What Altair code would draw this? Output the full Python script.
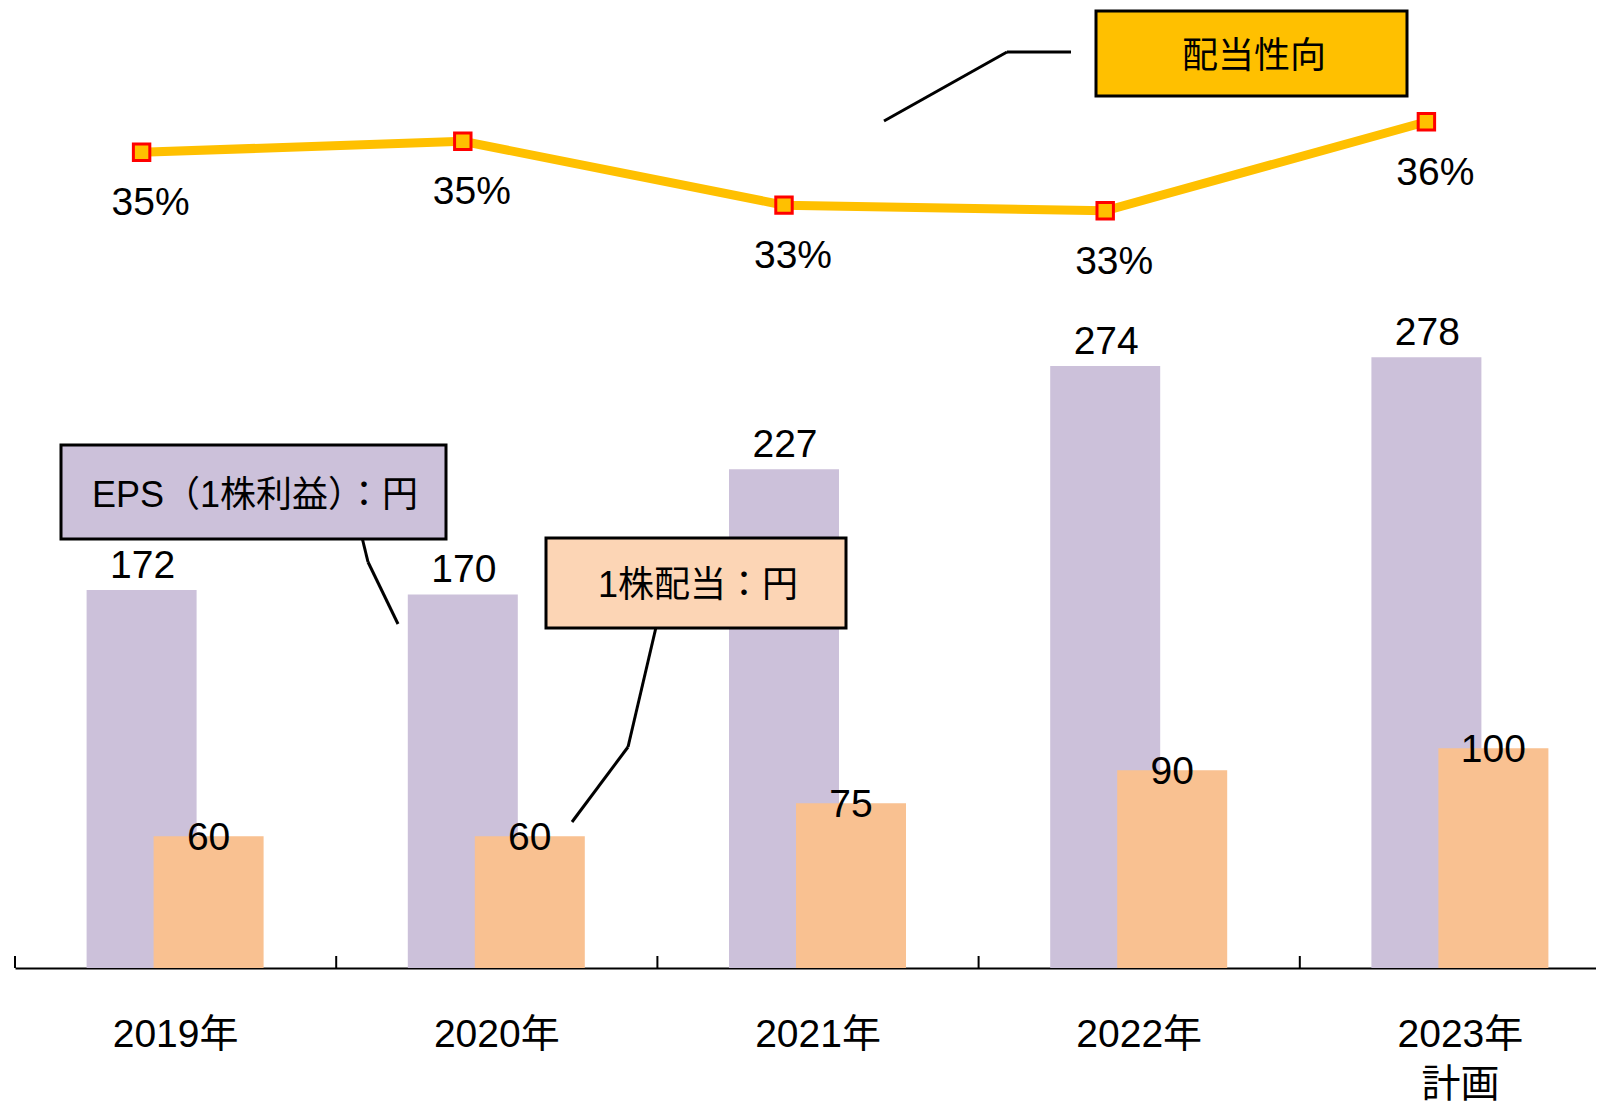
import altair as alt
import pandas as pd

# ---- data ----
years = ["2019年", "2020年", "2021年", "2022年", "2023年\n計画"]
eps = [172, 170, 227, 274, 278]          # EPS (1株利益) 円
dps = [60, 60, 75, 90, 100]              # 1株配当 円
payout = [34.9, 35.3, 33.0, 32.8, 36.0]  # 配当性向 %

df = pd.DataFrame({"year": years, "eps": eps, "dps": dps, "payout": payout})

FONT = "Liberation Sans, Arial, Noto Sans CJK JP"
PURPLE = "#CCC1DA"
PEACH = "#F9C191"
PEACH_LIGHT = "#FCD5B5"
GOLD = "#FFC000"

W, H = 1581, 958

x_scale = alt.Scale(range=[0, 1606], paddingInner=0, paddingOuter=0)
x_axis = alt.Axis(
    title=None, labelAngle=0, ticks=False, grid=False,
    domainColor="black", domainWidth=2,
    labelFont=FONT, labelFontSize=39, labelColor="black",
    labelPadding=47, labelLineHeight=50,
    labelExpr="split(datum.label, '\\n')",
)


def X(**kw):
    return alt.X("year:N", sort=years, scale=x_scale, axis=x_axis, **kw)


val_scale = alt.Scale(domain=[0, 436])
pct_scale = alt.Scale(domain=[5.56, 40.02])

base = alt.Chart(df)

eps_bar = base.mark_bar(color=PURPLE, width=110, xOffset=-34).encode(
    x=X(), y=alt.Y("eps:Q", scale=val_scale, axis=None)
)
dps_bar = base.mark_bar(color=PEACH, width=110, xOffset=33).encode(
    x=X(), y=alt.Y("dps:Q", scale=val_scale, axis=None)
)
eps_txt = base.mark_text(
    font=FONT, fontSize=39, color="black", baseline="alphabetic", xOffset=-33, dy=-12
).encode(x=X(), y=alt.Y("eps:Q", scale=val_scale, axis=None), text="eps:Q")
dps_txt = base.mark_text(
    font=FONT, fontSize=39, color="black", baseline="alphabetic", xOffset=33, dy=14
).encode(x=X(), y=alt.Y("dps:Q", scale=val_scale, axis=None), text="dps:Q")

ticks = base.mark_rule(color="black", strokeWidth=2).encode(
    x=X(bandPosition=0), y=alt.value(H), y2=alt.value(H - 12)
)

bars = alt.layer(eps_bar, dps_bar, eps_txt, dps_txt, ticks)

line = base.mark_line(color=GOLD, strokeWidth=9, xOffset=-34).encode(
    x=X(), y=alt.Y("payout:Q", scale=pct_scale, axis=None)
)
pts = base.mark_point(
    shape="square", size=270, filled=True, fill=GOLD, stroke="#FF0000",
    strokeWidth=3, opacity=1, xOffset=-34
).encode(x=X(), y=alt.Y("payout:Q", scale=pct_scale, axis=None))
pct_txt = base.transform_calculate(
    lbl="format(datum.payout, '.0f') + '%'"
).mark_text(
    font=FONT, fontSize=39, color="black", baseline="alphabetic", xOffset=-25, dy=63
).encode(x=X(), y=alt.Y("payout:Q", scale=pct_scale, axis=None), text="lbl:N")

ratio = alt.layer(line, pts, pct_txt)

one = pd.DataFrame({"k": [0]})


def box(x1, x2, y1, y2, fill):
    return alt.Chart(one).mark_rect(fill=fill, stroke="black", strokeWidth=3).encode(
        x=alt.value(x1), x2=alt.value(x2), y=alt.value(y1), y2=alt.value(y2)
    )


def label(x, y, t):
    return alt.Chart(one).mark_text(
        text=t, font=FONT, fontSize=36, color="black", align="center", baseline="middle"
    ).encode(x=alt.value(x), y=alt.value(y))


def seg(x1, y1, x2, y2):
    return alt.Chart(one).mark_rule(color="black", strokeWidth=3).encode(
        x=alt.value(x1), x2=alt.value(x2), y=alt.value(y1), y2=alt.value(y2)
    )


annos = alt.layer(
    seg(344, 515, 353, 552), seg(353, 552, 383, 614),
    seg(642, 613, 613, 737), seg(613, 737, 557, 812),
    seg(869, 111, 992, 42), seg(992, 42, 1056, 42),
    box(46, 431, 435, 529, PURPLE), label(240, 486, "EPS（1株利益）：円"),
    box(531, 831, 528, 618, PEACH_LIGHT), label(683, 576, "1株配当：円"),
    box(1081, 1392, 1, 86, GOLD), label(1239, 47, "配当性向"),
)

chart = alt.layer(bars, ratio, annos).resolve_scale(y="independent").properties(
    width=W, height=H,
    autosize=alt.AutoSizeParams(type="none"),
    padding={"left": 7, "top": 2, "right": 0, "bottom": 136},
    background="white",
).configure_view(stroke=None)

chart.save("out.html", embed_options={"renderer": "svg", "actions": False})
